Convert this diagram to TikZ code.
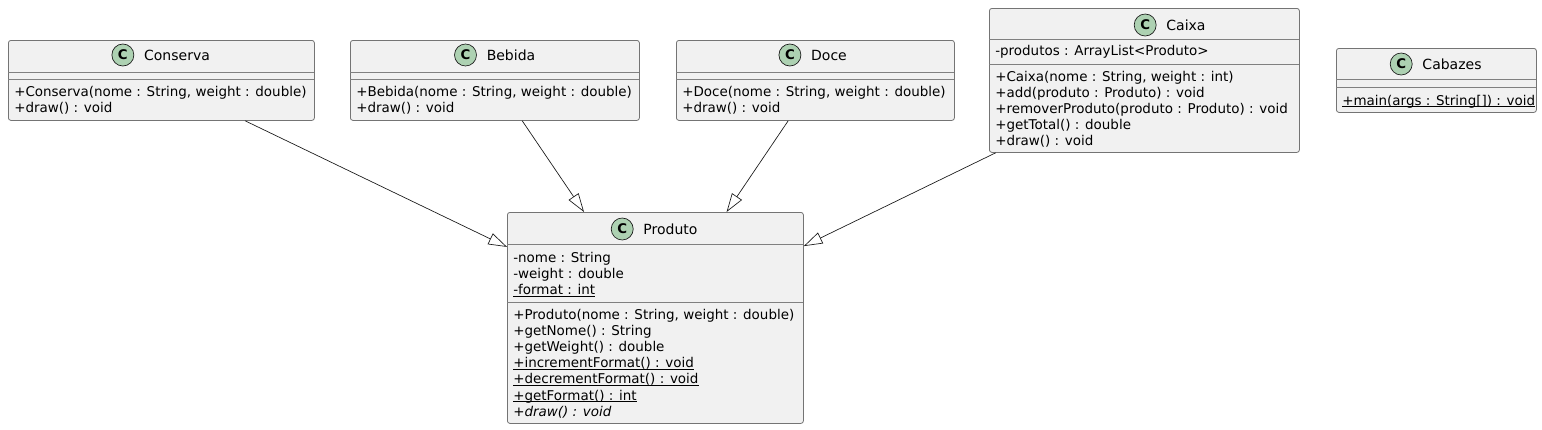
\documentclass[tikz,border=0pt]{standalone}
\usepackage{fontspec}
\setmainfont{DejaVu Sans}
\usetikzlibrary{arrows.meta, calc}

\definecolor{boxfill}{HTML}{F1F1F1}
\definecolor{boxline}{HTML}{181818}
\definecolor{iconfill}{HTML}{ADD1B2}

% underline for static members
\newsavebox{\ulstaticbox}
\newcommand{\ulstatic}[1]{\sbox{\ulstaticbox}{#1}\rlap{\rule[-1.5pt]{\wd\ulstaticbox}{0.45pt}}\usebox{\ulstaticbox}}

\begin{document}
\begin{tikzpicture}[x=0.75pt, y=-0.75pt,
    classbox/.style={draw=boxline!60, fill=boxfill, rounded corners=1.9pt, line width=0.6pt, inner sep=0pt, anchor=north west},
    boxdim/.style 2 args={minimum width=#1*0.75pt, minimum height=#2*0.75pt},
    sepline/.style={draw=boxline!55, line width=0.6pt},
    classname/.style={inner sep=0pt, anchor=base, font=\fontsize{10.5}{12}\selectfont},
    classicon/.style={circle, draw=boxline, fill=iconfill, line width=0.5pt, minimum size=16.5pt, inner sep=0pt, font=\bfseries\fontsize{10}{10}\selectfont},
    member/.style={inner sep=0pt, anchor=base west, font=\fontsize{10.1}{12}\selectfont},
    inherit/.style={draw=boxline, line width=0.5pt, -{Triangle[open, length=14pt, width=9pt]}}
]
    \path[use as bounding box, fill=white] (0,0) rectangle (1542,429);

    % Produto
    \node[classbox, boxdim={296}{211}] (produto) at (507,212) {};
    \draw[sepline] (507,244) -- (803,244) (507,302) -- (803,302);
    \node[classname] (produtoName) at (670.5,234) {Produto};
    \node[classicon] at ($(produtoName.base west)+(-21,-5)$) {C};
    \foreach \txt [count=\i] in {-nome : String, -weight : double, \ulstatic{-format : int}}
        \node[member] at (513, {262+16.2*(\i-1)}) {\txt};
    \foreach \txt [count=\i] in {{+Produto(nome : String, weight : double)}, +getNome() : String,
        +getWeight() : double, \ulstatic{+incrementFormat() : void},
        \ulstatic{+decrementFormat() : void}, \ulstatic{+getFormat() : int}, {\itshape +draw() : void}}
        \node[member] at (513, {319+16.2*(\i-1)}) {\txt};

    % Conserva
    \node[classbox, boxdim={306}{80}] (conserva) at (8,40) {};
    \draw[sepline] (8,72) -- (314,72) (8,79) -- (314,79);
    \node[classname] (conservaName) at (177,60) {Conserva};
    \node[classicon] at ($(conservaName.base west)+(-21,-5)$) {C};
    \foreach \txt [count=\i] in {{+Conserva(nome : String, weight : double)}, +draw() : void}
        \node[member] at (14, {96+16.2*(\i-1)}) {\txt};

    % Bebida
    \node[classbox, boxdim={289}{80}] (bebida) at (350,40) {};
    \draw[sepline] (350,72) -- (639,72) (350,79) -- (639,79);
    \node[classname] (bebidaName) at (511,60) {Bebida};
    \node[classicon] at ($(bebidaName.base west)+(-21,-5)$) {C};
    \foreach \txt [count=\i] in {{+Bebida(nome : String, weight : double)}, +draw() : void}
        \node[member] at (356, {96+16.2*(\i-1)}) {\txt};

    % Doce
    \node[classbox, boxdim={278}{80}] (doce) at (676,40) {};
    \draw[sepline] (676,72) -- (954,72) (676,79) -- (954,79);
    \node[classname] (doceName) at (829,60) {Doce};
    \node[classicon] at ($(doceName.base west)+(-21,-5)$) {C};
    \foreach \txt [count=\i] in {{+Doce(nome : String, weight : double)}, +draw() : void}
        \node[member] at (682, {96+16.2*(\i-1)}) {\txt};

    % Caixa
    \node[classbox, boxdim={310}{144}] (caixa) at (989,8) {};
    \draw[sepline] (989,39) -- (1299,39) (989,64) -- (1299,64);
    \node[classname] (caixaName) at (1186,30) {Caixa};
    \node[classicon] at ($(caixaName.base west)+(-21,-5)$) {C};
    \node[member] at (995,55) {-produtos : ArrayList<Produto>};
    \foreach \txt [count=\i] in {{+Caixa(nome : String, weight : int)}, +add(produto : Produto) : void,
        +removerProduto(produto : Produto) : void, +getTotal() : double, +draw() : void}
        \node[member] at (995, {81+16.2*(\i-1)}) {\txt};

    % Cabazes
    \node[classbox, boxdim={200}{64}] (cabazes) at (1336,48) {};
    \draw[sepline] (1336,79) -- (1536,79) (1336,87) -- (1536,87);
    \node[classname] (cabazesName) at (1452,69) {Cabazes};
    \node[classicon] at ($(cabazesName.base west)+(-21,-5)$) {C};
    \node[member] at (1342,105) {\ulstatic{+main(args : String[]) : void}};

    % generalisations
    \foreach \sub in {conserva, bebida, doce, caixa}
        \draw[inherit] (\sub) -- (produto);
\end{tikzpicture}
\end{document}
